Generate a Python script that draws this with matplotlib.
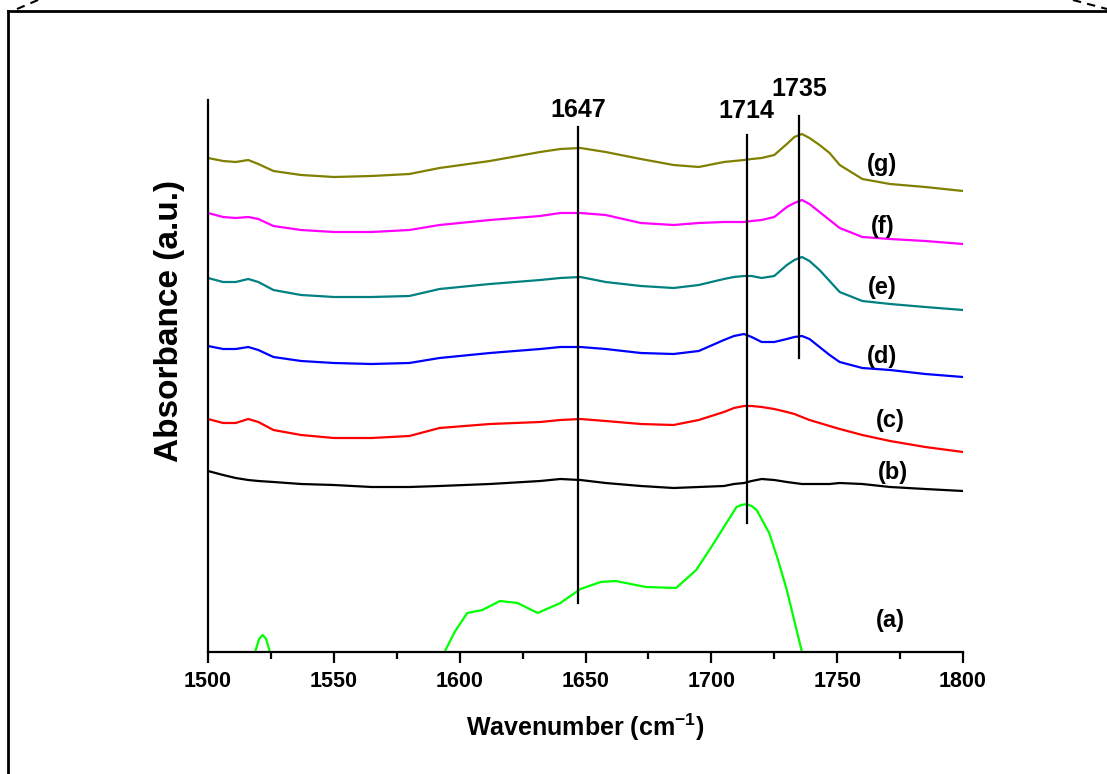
import matplotlib
matplotlib.use("Agg")
import matplotlib.pyplot as plt
from matplotlib.lines import Line2D
import numpy as np

plt.rcParams['font.family'] = ['Liberation Sans', 'DejaVu Sans']
plt.rcParams['font.weight'] = 'bold'
plt.rcParams['mathtext.fontset'] = 'custom'
plt.rcParams['mathtext.default'] = 'bf'
plt.rcParams['mathtext.bf'] = 'Liberation Sans:bold'
plt.rcParams['lines.solid_joinstyle'] = 'round'

# wavenumber grid shared by the offset spectra (b)-(g)
wn = [1500, 1506, 1511, 1516, 1520, 1526, 1537, 1550, 1565, 1580, 1592, 1612, 1632,
      1640, 1648, 1658, 1672, 1685, 1695, 1705, 1709, 1713, 1716, 1720, 1725, 1730,
      1733, 1736, 1739, 1743, 1747, 1751, 1760, 1771, 1785, 1800]

abs_b = [1.81, 1.77, 1.74, 1.72, 1.71, 1.70, 1.68, 1.67, 1.65, 1.65, 1.66, 1.68, 1.71,
         1.73, 1.72, 1.69, 1.66, 1.64, 1.65, 1.66, 1.68, 1.69, 1.71, 1.73, 1.72, 1.70,
         1.69, 1.68, 1.68, 1.68, 1.68, 1.69, 1.68, 1.65, 1.63, 1.61]
abs_c = [2.33, 2.29, 2.29, 2.33, 2.30, 2.22, 2.17, 2.14, 2.14, 2.16, 2.24, 2.28, 2.30,
         2.32, 2.33, 2.31, 2.28, 2.27, 2.32, 2.40, 2.44, 2.46, 2.46, 2.45, 2.43, 2.40,
         2.38, 2.35, 2.32, 2.29, 2.26, 2.23, 2.17, 2.11, 2.05, 2.00]
abs_d = [3.06, 3.03, 3.03, 3.05, 3.02, 2.95, 2.91, 2.89, 2.88, 2.89, 2.94, 2.99, 3.03,
         3.05, 3.05, 3.03, 2.99, 2.98, 3.01, 3.12, 3.16, 3.18, 3.15, 3.10, 3.10, 3.13,
         3.15, 3.16, 3.13, 3.05, 2.97, 2.90, 2.84, 2.82, 2.78, 2.75]
abs_e = [3.74, 3.70, 3.70, 3.73, 3.70, 3.62, 3.57, 3.55, 3.55, 3.56, 3.63, 3.68, 3.72,
         3.74, 3.75, 3.70, 3.66, 3.64, 3.67, 3.73, 3.75, 3.76, 3.76, 3.74, 3.76, 3.87,
         3.92, 3.95, 3.91, 3.82, 3.71, 3.60, 3.51, 3.48, 3.45, 3.42]
abs_f = [4.39, 4.35, 4.34, 4.35, 4.33, 4.26, 4.22, 4.20, 4.20, 4.22, 4.27, 4.32, 4.36,
         4.39, 4.39, 4.37, 4.29, 4.27, 4.29, 4.30, 4.30, 4.30, 4.31, 4.32, 4.35, 4.45,
         4.49, 4.52, 4.48, 4.40, 4.32, 4.24, 4.15, 4.13, 4.11, 4.08]
abs_g = [4.94, 4.91, 4.90, 4.92, 4.88, 4.81, 4.77, 4.75, 4.76, 4.78, 4.84, 4.91, 5.00,
         5.03, 5.04, 5.00, 4.93, 4.87, 4.85, 4.90, 4.91, 4.92, 4.93, 4.94, 4.97, 5.08,
         5.15, 5.18, 5.14, 5.07, 4.99, 4.87, 4.73, 4.68, 4.65, 4.61]

# spectrum (a) has its own sampling, parts fall below the plotted range
wn_a = [1510, 1517, 1518.7, 1520.3, 1521.7, 1523.1, 1524.6, 1527, 1560, 1590, 1594, 1598,
        1603, 1609, 1616, 1623, 1631, 1640, 1648, 1656, 1662, 1674, 1686, 1694, 1700,
        1706, 1710, 1712, 1714, 1716, 1718, 1723, 1726.5, 1730, 1736, 1742]
abs_a = [-0.48, -0.13, 0.00, 0.13, 0.17, 0.13, 0.00, -0.18, -0.48, -0.16, 0.00, 0.20,
         0.39, 0.42, 0.51, 0.49, 0.39, 0.49, 0.63, 0.70, 0.71, 0.65, 0.64, 0.82, 1.05,
         1.29, 1.45, 1.47, 1.48, 1.46, 1.42, 1.19, 0.92, 0.62, 0.00, -0.48]

peaks = [1647, 1714, 1735]
peak_lo = [0.49, 1.29, 2.94]
peak_hi = [5.25, 5.17, 5.36]
peak_txt = [5.30, 5.29, 5.51]

labels = ['(a)', '(b)', '(c)', '(d)', '(e)', '(f)', '(g)']
label_x = [1771, 1772, 1771, 1768, 1768, 1768, 1768]
label_y = [0.32, 1.80, 2.32, 2.95, 3.64, 4.25, 4.87]

fig = plt.figure(figsize=(11.07, 7.74), dpi=100)
ax = fig.add_axes([208 / 1107, 122 / 774, 755 / 1107, 552 / 774])

ax.plot(wn_a, abs_a, color='#00ff00', lw=1.6)
ax.plot(wn, abs_b, color='black', lw=1.6)
ax.plot(wn, abs_c, color='#ff0000', lw=1.6)
ax.plot(wn, abs_d, color='#0000ff', lw=1.6)
ax.plot(wn, abs_e, color='#008080', lw=1.6)
ax.plot(wn, abs_f, color='#ff00ff', lw=1.6)
ax.plot(wn, abs_g, color='#808000', lw=1.6)

for p, lo, hi, ty in zip(peaks, peak_lo, peak_hi, peak_txt):
    ax.plot([p, p], [lo, hi], color='black', lw=1.6)
    ax.text(p, ty, str(p), ha='center', va='bottom', fontsize=18, fontweight='bold')

for t, x, y in zip(labels, label_x, label_y):
    ax.text(x, y, t, ha='center', va='center', fontsize=17, fontweight='bold')

ax.set_xlim(1500, 1800)
ax.set_ylim(0, 5.52)
ax.set_xticks(np.arange(1500, 1801, 50))
ax.set_xticks(np.arange(1525, 1800, 50), minor=True)
ax.set_yticks([])
ax.spines['top'].set_visible(False)
ax.spines['right'].set_visible(False)
ax.spines['left'].set_linewidth(1.6)
ax.spines['bottom'].set_linewidth(1.6)
ax.tick_params(axis='x', which='major', length=8, width=1.6, labelsize=15.5, pad=6)
ax.tick_params(axis='x', which='minor', length=5, width=1.6)
for lb in ax.get_xticklabels():
    lb.set_fontweight('bold')

ax.set_xlabel('Wavenumber (cm$^{-1}$)', fontsize=18, fontweight='bold', labelpad=14)
ax.set_ylabel('Absorbance (a.u.)', fontsize=24, fontweight='bold')
ax.yaxis.set_label_coords(-0.030, 0.60)

# frame of the surrounding box
fig.add_artist(Line2D([8 / 1107, 1.0], [1 - 11 / 774, 1 - 11 / 774], color='black', lw=2))
fig.add_artist(Line2D([8 / 1107, 8 / 1107], [0, 1 - 11 / 774], color='black', lw=2))
fig.add_artist(Line2D([17 / 1107, 38 / 1107], [1 - 9 / 774, 1.0], color='black', lw=1.5,
                      ls=(0, (4, 3))))
fig.add_artist(Line2D([1073 / 1107, 1.0], [1.0, 1 - 9 / 774], color='black', lw=1.5,
                      ls=(0, (4, 3))))

fig.savefig('out.png', dpi=100)
